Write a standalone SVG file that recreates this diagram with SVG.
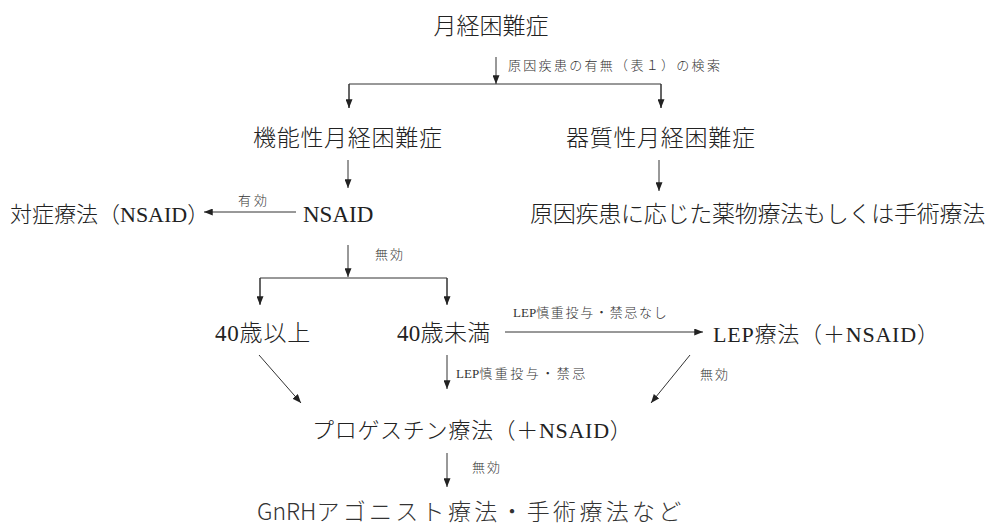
<svg xmlns="http://www.w3.org/2000/svg" width="992" height="528" viewBox="0 0 992 528">
<style>
.m{font-family:"Liberation Serif","Noto Sans CJK JP",serif;font-size:23px;font-weight:300;fill:#222;}
.s{font-size:22px;}
.l{font-family:"Liberation Serif","Noto Sans CJK JP",serif;font-size:13px;font-weight:300;fill:#333;}
.g{font-family:"Noto Sans CJK JP","Liberation Sans",sans-serif;font-size:23px;font-weight:300;fill:#333;}
.c{stroke:#333;stroke-width:1;fill:none;}
</style>
<defs>
<marker id="ah" viewBox="0 0 10 8" refX="10" refY="4" markerWidth="9" markerHeight="7" markerUnits="userSpaceOnUse" orient="auto">
<path d="M0,0 L10,4 L0,8 z" fill="#222"/>
</marker>
</defs>
<g id="connectors">
<line class="c" x1="496" y1="57" x2="496" y2="84" marker-end="url(#ah)"/>
<polyline class="c" points="349,108 349,84 661,84 661,108" />
<line class="c" x1="349" y1="84" x2="349" y2="108" marker-end="url(#ah)"/>
<line class="c" x1="661" y1="84" x2="661" y2="108" marker-end="url(#ah)"/>
<line class="c" x1="348" y1="160" x2="348" y2="188" marker-end="url(#ah)"/>
<line class="c" x1="659" y1="160" x2="659" y2="191" marker-end="url(#ah)"/>
<line class="c" x1="296" y1="212" x2="204" y2="212" marker-end="url(#ah)"/>
<line class="c" x1="348" y1="245" x2="348" y2="277" marker-end="url(#ah)"/>
<polyline class="c" points="260,304 260,278 447,278 447,304"/>
<line class="c" x1="260" y1="278" x2="260" y2="305" marker-end="url(#ah)"/>
<line class="c" x1="447" y1="278" x2="447" y2="305" marker-end="url(#ah)"/>
<line class="c" x1="505" y1="332" x2="703" y2="332" marker-end="url(#ah)"/>
<line class="c" x1="447" y1="355" x2="447" y2="389" marker-end="url(#ah)"/>
<line class="c" x1="259" y1="355" x2="301" y2="403" marker-end="url(#ah)"/>
<line class="c" x1="690" y1="355" x2="651" y2="403" marker-end="url(#ah)"/>
<line class="c" x1="447" y1="453" x2="447" y2="487" marker-end="url(#ah)"/>
</g>
<g id="labels">
<text class="l" x="508" y="70" letter-spacing="2.3">原因疾患の有無（表１）の検索</text>
<text class="l" x="238" y="205" letter-spacing="3">有効</text>
<text class="l" x="375" y="259" letter-spacing="2">無効</text>
<text class="l" x="513" y="317">LEP<tspan letter-spacing="1.7">慎重投与・禁忌なし</tspan></text>
<text class="l" x="456" y="378">LEP<tspan letter-spacing="2.5">慎重投与・禁忌</tspan></text>
<text class="l" x="700" y="379" letter-spacing="2">無効</text>
<text class="l" x="472" y="472" letter-spacing="2">無効</text>
</g>
<g id="n1"><text class="m" x="491" y="34" text-anchor="middle">月経困難症</text></g>
<g id="n2"><text class="m" x="253" y="146" letter-spacing="0.7">機能性月経困難症</text></g>
<g id="n3"><text class="m" x="566" y="146" letter-spacing="0.7">器質性月経困難症</text></g>
<g id="n4"><text class="m s" x="10" y="222">対症療法（NSAID）</text></g>
<g id="n5"><text class="m" x="303" y="222">NSAID</text></g>
<g id="n6"><text class="m" x="530" y="222" letter-spacing="-0.25">原因疾患に応じた薬物療法もしくは手術療法</text></g>
<g id="n7"><text class="m" x="215" y="341" letter-spacing="0.8">40歳以上</text></g>
<g id="n8"><text class="m" x="397" y="341" letter-spacing="0.3">40歳未満</text></g>
<g id="n9"><text class="m s" x="713" y="342" letter-spacing="0.8">LEP療法（＋NSAID）</text></g>
<g id="n10"><text class="m s" x="312" y="438" letter-spacing="0.7">プロゲスチン療法（＋NSAID）</text></g>
<g id="n11"><text class="g" x="257" y="520">GnRH<tspan letter-spacing="3.3">アゴニスト療法・手術療法など</tspan></text></g>
</svg>
